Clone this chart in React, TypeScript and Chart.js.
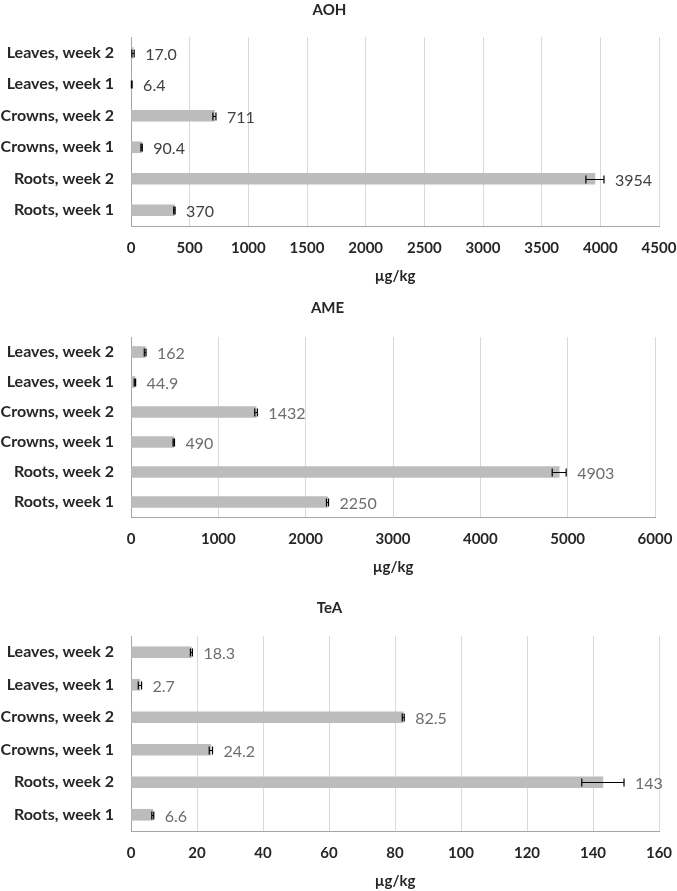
import React, { useEffect, useRef } from "react";
import { Chart, registerables } from "chart.js";

Chart.register(...registerables);

// ---- Data ----
const categories = [
  "Leaves, week 2",
  "Leaves, week 1",
  "Crowns, week 2",
  "Crowns, week 1",
  "Roots, week 2",
  "Roots, week 1",
];

const aohValues = [17.0, 6.4, 711, 90.4, 3954, 370];
const aohErrors = [10, 3, 13, 6, 77, 6];

const ameValues = [162, 44.9, 1432, 490, 4903, 2250];
const ameErrors = [10, 8, 15, 8, 80, 12];

const teaValues = [18.3, 2.7, 82.5, 24.2, 143, 6.6];
const teaErrors = [0.3, 0.5, 0.3, 0.5, 6.4, 0.3];

const aohAxis = { max: 4500, step: 500 };
const ameAxis = { max: 6000, step: 1000 };
const teaAxis = { max: 160, step: 20 };

const unitLabel = "µg/kg";

const FONT = "Lato";

const fmt = (v: number) => (v < 100 ? v.toFixed(1) : v.toFixed(0));

const errorBarPlugin = {
  id: "errorBars",
  afterDatasetsDraw(chart: any, _args: any, opts: any) {
    const { ctx } = chart;
    const xScale = chart.scales.x;
    const meta = chart.getDatasetMeta(0);
    const values: number[] = chart.data.datasets[0].data;
    const errors: number[] = opts.errors || [];
    ctx.save();
    meta.data.forEach((bar: any, i: number) => {
      const v = values[i];
      const e = errors[i] || 0;
      const y = Math.round(bar.y) + 0.5;
      const x1 = xScale.getPixelForValue(v - e);
      const x2 = xScale.getPixelForValue(v + e);
      ctx.strokeStyle = "#000000";
      ctx.lineWidth = 1.2;
      ctx.beginPath();
      ctx.moveTo(x1, y);
      ctx.lineTo(x2, y);
      ctx.moveTo(x1, y - 4);
      ctx.lineTo(x1, y + 4);
      ctx.moveTo(x2, y - 4);
      ctx.lineTo(x2, y + 4);
      ctx.stroke();
      ctx.fillStyle = opts.labelColor || "#404040";
      ctx.font = `16px ${FONT}`;
      ctx.textAlign = "left";
      ctx.textBaseline = "middle";
      ctx.fillText(fmt(v), x2 + 11, y + 1);
    });
    ctx.restore();
  },
};

type PanelProps = {
  title: string;
  values: number[];
  errors: number[];
  axis: { max: number; step: number };
  top: number;
  height: number;
  titleGap: number;
  rightPad: number;
  labelColor: string;
};

function Panel(p: PanelProps) {
  const ref = useRef<HTMLCanvasElement | null>(null);
  useEffect(() => {
    if (!ref.current) return;
    const chart = new Chart(ref.current, {
      type: "bar",
      data: {
        labels: categories,
        datasets: [
          {
            data: p.values,
            backgroundColor: "#bcbcbc",
            borderWidth: 0,
            barThickness: 11,
            categoryPercentage: 1,
            barPercentage: 1,
          },
        ],
      },
      options: {
        indexAxis: "y",
        animation: false,
        responsive: false,
        devicePixelRatio: 1,
        layout: { padding: { left: 0, right: p.rightPad, top: 0, bottom: 0 } },
        plugins: {
          legend: { display: false },
          tooltip: { enabled: false },
          title: {
            display: true,
            text: p.title,
            color: "#262626",
            font: { family: FONT, size: 15, weight: "bold", lineHeight: 1.2 },
            padding: { top: 1, bottom: p.titleGap },
          },
          errorBars: { errors: p.errors, labelColor: p.labelColor },
        } as any,
        scales: {
          x: {
            min: 0,
            max: p.axis.max,
            afterFit: (s: any) => {
              s.paddingLeft = 0;
              s.paddingRight = 0;
            },
            ticks: {
              stepSize: p.axis.step,
              color: "#262626",
              font: { family: FONT, size: 15, weight: "bold", lineHeight: 1.2 },
              padding: 13,
              maxRotation: 0,
              callback: (v: any) => String(v),
            },
            grid: { color: "#d9d9d9", lineWidth: 1, drawTicks: false },
            border: { display: true, color: "#a6a6a6", width: 1 },
            title: {
              display: true,
              text: unitLabel,
              color: "#262626",
              font: { family: FONT, size: 15, weight: "bold", lineHeight: 1.2 },
              padding: { top: -3, bottom: 0 },
            },
          },
          y: {
            afterFit: (s: any) => {
              s.width = 131;
            },
            ticks: {
              color: "#262626",
              font: { family: FONT, size: 16, weight: "bold", lineHeight: 1.2 },
              padding: 17,
            },
            grid: { display: false, drawTicks: false },
            border: { display: true, color: "#a6a6a6", width: 1 },
          },
        },
      } as any,
      plugins: [errorBarPlugin],
    });
    return () => chart.destroy();
  }, []);
  return (
    <canvas
      ref={ref}
      width={677}
      height={p.height}
      style={{ position: "absolute", left: 0, top: p.top, width: 677, height: p.height }}
    />
  );
}

export default function App() {
  return (
    <div
      style={{
        position: "absolute",
        left: 0,
        top: 0,
        width: 677,
        height: 891,
        background: "#ffffff",
      }}
    >
      <Panel
        title="AOH"
        values={aohValues}
        errors={aohErrors}
        axis={aohAxis}
        top={0}
        height={285}
        titleGap={18}
        rightPad={18}
        labelColor="#404040"
      />
      <Panel
        title="AME"
        values={ameValues}
        errors={ameErrors}
        axis={ameAxis}
        top={298}
        height={278}
        titleGap={20}
        rightPad={22}
        labelColor="#6d6d6d"
      />
      <Panel
        title="TeA"
        values={teaValues}
        errors={teaErrors}
        axis={teaAxis}
        top={598}
        height={292}
        titleGap={19}
        rightPad={18}
        labelColor="#6d6d6d"
      />
    </div>
  );
}
